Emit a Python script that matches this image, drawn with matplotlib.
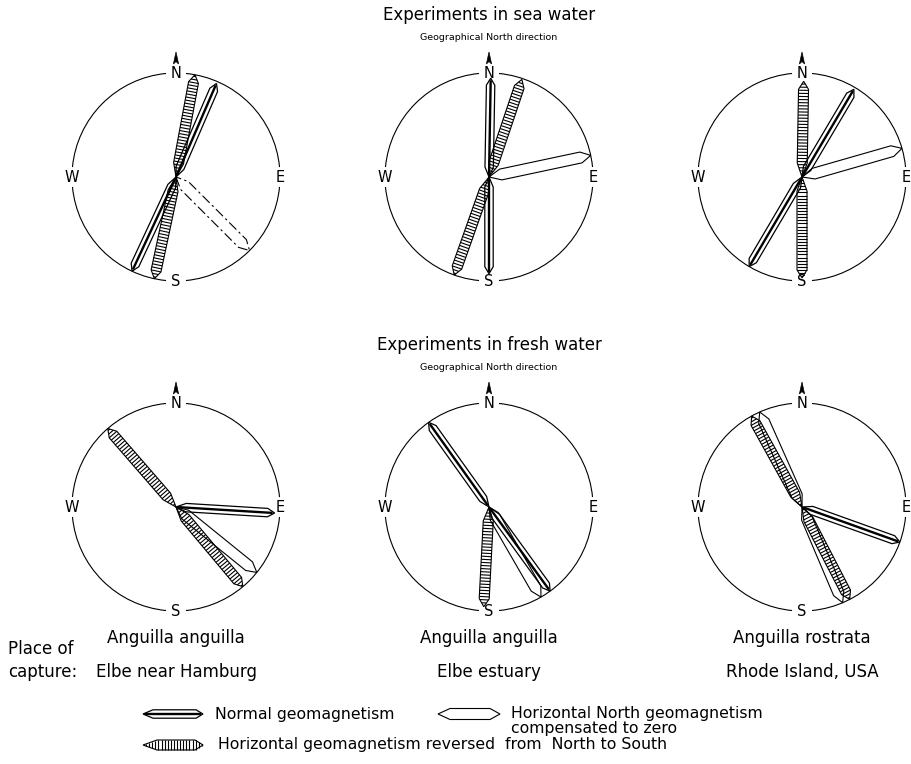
import numpy as np
import matplotlib
matplotlib.use("Agg")
import matplotlib.pyplot as plt
from matplotlib.patches import Polygon, Arc
from matplotlib.collections import LineCollection

# ---------------- data (bearings in degrees clockwise from North, lengths as fraction of radius)
row_titles = ["Experiments in sea water", "Experiments in fresh water"]
north_label = "Geographical North direction"
species = ["Anguilla anguilla", "Anguilla anguilla", "Anguilla rostrata"]
places = ["Elbe near Hamburg", "Elbe estuary", "Rhode Island, USA"]
compass_letters = ["N", "E", "S", "W"]

# panels ordered: sea (left, mid, right), fresh (left, mid, right)
normal_bearings = [[23.4, 205.0], [1.0, 180.0], [30.6, 210.5], [93.5], [324.5, 144.0], [109.7]]
normal_lengths = [[0.98, 1.0], [0.95, 0.93], [0.98, 1.0], [0.95], [1.0, 1.0], [1.0]]
comp_bearings = [[135.0], [78.0], [74.0], [129.0], [150.0], [336.0, 157.0]]
comp_lengths = [[1.0], [1.0], [1.0], [1.0], [1.0], [1.0, 1.0]]
comp_dashed = [True, False, False, False, False, False]
rev_bearings = [[10.5, 192.0], [18.6, 199.5], [1.0, 180.0], [319.0, 140.0], [183.0], [331.0, 152.7]]
rev_lengths = [[1.0, 1.0], [0.99, 1.0], [0.92, 0.97], [1.0, 1.0], [0.96], [1.0, 1.0]]

legend_labels = ["Normal geomagnetism",
                 "Horizontal North geomagnetism\ncompensated to zero",
                 "Horizontal geomagnetism reversed  from  North to South"]

# ---------------- layout
W, H = 911, 764
col_x = [176, 489, 802]
row_y = [177, 507]
R = 104

fig = plt.figure(figsize=(W / 100, H / 100), dpi=100)
ax = fig.add_axes([0, 0, 1, 1])
ax.set_xlim(0, W)
ax.set_ylim(H, 0)
ax.set_aspect("equal")
ax.axis("off")

FONT = "DejaVu Sans"


def pt(x0, y0, bearing, u, v):
    th = np.radians(bearing)
    dx, dy = np.sin(th), -np.cos(th)
    nx, ny = np.cos(th), np.sin(th)
    return (x0 + u * dx + v * nx, y0 + u * dy + v * ny)


def outline(x0, y0, bearing, L, w, a, b):
    return [pt(x0, y0, bearing, 0, 0), pt(x0, y0, bearing, a, w),
            pt(x0, y0, bearing, L - b, w), pt(x0, y0, bearing, L, 0),
            pt(x0, y0, bearing, L - b, -w), pt(x0, y0, bearing, a, -w)]


def draw_normal(x0, y0, bearing, L):
    ax.add_patch(Polygon(outline(x0, y0, bearing, L, 4.2, 10, 7), closed=True,
                         fill=False, lw=0.9, ec="black", joinstyle="miter"))
    p1 = pt(x0, y0, bearing, 2, 0)
    p2 = pt(x0, y0, bearing, L - 2, 0)
    ax.plot([p1[0], p2[0]], [p1[1], p2[1]], color="black", lw=1.7,
            solid_capstyle="butt")


def draw_comp(x0, y0, bearing, L, dashed=False):
    ax.add_patch(Polygon(outline(x0, y0, bearing, L, 5.5, 12, 10), closed=True,
                         fill=False, lw=0.8, ec="black",
                         ls=(0, (9, 3, 2, 3)) if dashed else "-"))


def draw_rev(x0, y0, bearing, L):
    w, a, b = 5.0, 14, 8
    ax.add_patch(Polygon(outline(x0, y0, bearing, L, w, a, b), closed=True,
                         fill=False, lw=0.8, ec="black"))
    segs = []
    for u in np.arange(3.0, L - 1.0, 3.1):
        hw = w * min(1.0, u / a, (L - u) / b)
        segs.append([pt(x0, y0, bearing, u, -hw), pt(x0, y0, bearing, u, hw)])
    ax.add_collection(LineCollection(segs, colors="black", linewidths=0.8))


def compass(cx, cy):
    g = 5.5
    for k in range(4):
        start = k * 90
        ax.add_patch(Arc((cx, cy), 2 * R, 2 * R, theta1=start + g, theta2=start + 90 - g,
                         lw=0.8, color="black"))
    off = {"N": (0, -R), "E": (R, 0), "S": (0, R), "W": (-R, 0)}
    for lab in compass_letters:
        dx, dy = off[lab]
        ax.text(cx + dx, cy + dy, lab, ha="center", va="center", fontsize=10.5,
                family=FONT)
    # north arrow
    top = cy - R - 8
    ax.add_patch(Polygon([(cx, top - 13), (cx + 2.6, top - 1), (cx, top - 3.5),
                          (cx - 2.6, top - 1)], closed=True, fc="black", ec="black", lw=0.5))


for i in range(6):
    cx = col_x[i % 3]
    cy = row_y[i // 3]
    compass(cx, cy)
    for bb, ll in zip(comp_bearings[i], comp_lengths[i]):
        draw_comp(cx, cy, bb, ll * R, comp_dashed[i])
    for bb, ll in zip(rev_bearings[i], rev_lengths[i]):
        draw_rev(cx, cy, bb, ll * R)
    for bb, ll in zip(normal_bearings[i], normal_lengths[i]):
        draw_normal(cx, cy, bb, ll * R)

# titles
for r, t in enumerate(row_titles):
    y = row_y[r] - R - 58
    ax.text(col_x[1], y, t, ha="center", va="center", fontsize=12, family=FONT)
    ax.text(col_x[1], y + 22, north_label, ha="center", va="center", fontsize=6.8,
            family=FONT)

# species and places
for j in range(3):
    ax.text(col_x[j], 638, species[j], ha="center", va="center", fontsize=12, family=FONT)
    ax.text(col_x[j], 672, places[j], ha="center", va="center", fontsize=12, family=FONT)
ax.text(8, 649, "Place of", ha="left", va="center", fontsize=12, family=FONT)
ax.text(8, 672, "capture:", ha="left", va="center", fontsize=12, family=FONT)

# legend
draw_normal(143, 714, 90, 60)
ax.text(215, 714, legend_labels[0], ha="left", va="center", fontsize=11.3, family=FONT)
draw_comp(438, 714, 90, 62)
ax.text(511, 721, legend_labels[1], ha="left", va="center", fontsize=11.3, family=FONT,
        linespacing=1.0)
draw_rev(143, 745, 90, 60)
ax.text(218, 745, legend_labels[2], ha="left", va="center", fontsize=11.3, family=FONT)

fig.savefig("out.png", dpi=100, facecolor="white")
